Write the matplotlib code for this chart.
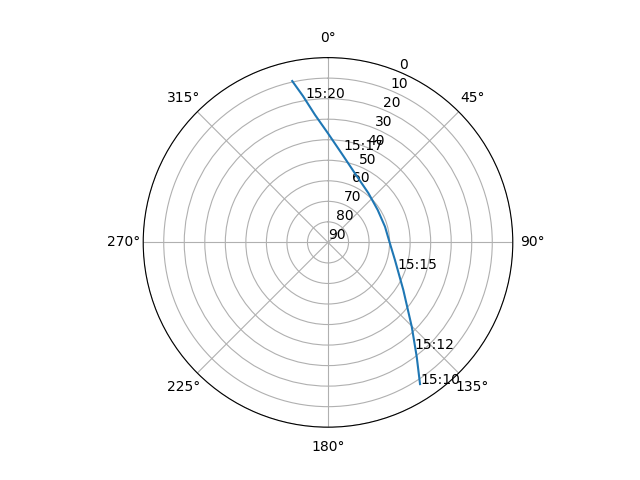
import numpy as np
import matplotlib
matplotlib.use("Agg")
import matplotlib.pyplot as plt

# pass track (azimuth deg, elevation deg), 15:10 first
az = [147.0, 142.2, 135.2, 122.3, 104.7, 89.3, 74.6, 56.9,
      39.5, 21.3, 9.0, 0.0, 354.2, 350.3, 347.5]
el = [7.7, 19.5, 32.1, 46.6, 56.3, 60.1, 61.2, 61.1,
      59.0, 53.9, 46.4, 36.9, 27.6, 17.7, 9.5]

# time marks along the pass
times = ["15:10", "15:12", "15:15", "15:17", "15:20"]
time_az = [147.0, 141.1, 111.1, 9.2, 351.2]
time_el = [7.7, 23.3, 54.0, 44.4, 18.7]

az = np.array(az)
az = np.where(az > 180, az - 360, az)

fig = plt.figure(figsize=(6.4, 4.8), dpi=100)
ax = fig.add_subplot(111, projection="polar")
ax.set_theta_zero_location("N")
ax.set_theta_direction(-1)
ax.plot(np.radians(az), el)
for t, a, e in zip(times, time_az, time_el):
    ax.text(np.radians(a), e, t)
ax.set_ylim(90, 0)
ax.set_yticks(range(0, 91, 10))
plt.savefig("out.png")
